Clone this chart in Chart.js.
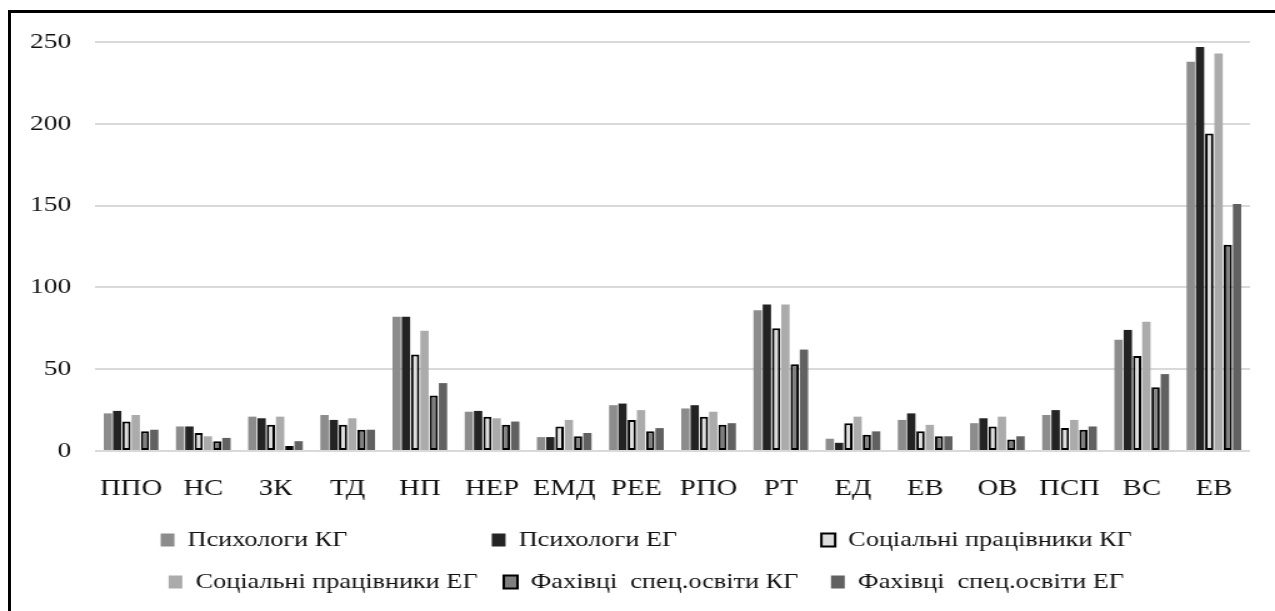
<!DOCTYPE html>
<html><head><meta charset="utf-8">
<script src="https://cdn.jsdelivr.net/npm/chart.js@4"></script>
<style>
html,body{margin:0;padding:0;background:#fff;overflow:hidden;width:1275px;height:611px;}
#wrap{position:absolute;left:0;top:0;width:1020px;height:611px;transform:scaleX(1.25);transform-origin:0 0;}
#frame{position:absolute;left:8px;top:10px;width:1300px;height:700px;border-top:3px solid #000;border-left:3px solid #000;pointer-events:none;}
</style></head><body>
<div id="wrap"><canvas id="c"></canvas></div>
<div id="frame"></div>
<script>
const categories = ['ППО','НС','ЗК','ТД','НП','НЕР','ЕМД','РЕЕ','РПО','РТ','ЕД','ЕВ','ОВ','ПСП','ВС','ЕВ'];
const seriesNames = ['Психологи КГ','Психологи ЕГ','Соціальні працівники КГ','Соціальні працівники ЕГ','Фахівці  спец.освіти КГ','Фахівці  спец.освіти ЕГ'];
const psychKG = [23,15,21,22,82,24,8.5,28,26,86,7.5,19,17,22,68,238];
const psychEG = [24.5,15,20,19,82,24.5,8.5,29,28,89.5,5,23,20,25,74,247];
const socKG   = [18,11,16,16,59,21,15,19,21,75,17,12,15,14,58,194];
const socEG   = [22,9,21,20,73.5,20,19,25,24,89.5,21,16,21,19,79,243];
const specKG  = [12,6,3,13,34,16,9,12,16,53,10,9,7,13,39,126];
const specEG  = [13,8,6,13,41.5,18,11,14,17,62,12,9,9,15,47,151];
const yTicks  = [0,50,100,150,200,250];

const FONT = '"Liberation Serif", "Times New Roman", serif';
const TXT = '#111';
const mctx = document.createElement('canvas').getContext('2d');
mctx.font = '21px ' + FONT;

const series = [psychKG, psychEG, socKG, socEG, specKG, specEG];
const fills   = ['#8c8c8c','#232323','#dedede','#ababab','#7f7f7f','#616161'];
const borders = [0,0,2,0,2,0];

const datasets = series.map((d,i)=>({
  label: seriesNames[i],
  data: d,
  backgroundColor: fills[i],
  borderColor: '#000',
  borderWidth: borders[i],
  borderSkipped: false,
  categoryPercentage: 0.77,
  barPercentage: 0.9
}));

const shiftLegend = {
  id: 'shiftLegend',
  afterLayout(chart) {
    if (chart.legend) { chart.legend.left += 17; chart.legend.right += 17; }
  }
};

new Chart(document.getElementById('c'), {
  type: 'bar',
  data: { labels: categories, datasets },
  plugins: [shiftLegend],
  options: {
    responsive: true,
    maintainAspectRatio: false,
    animation: false,
    devicePixelRatio: 1,
    layout: { padding: { top: 42, left: 0, right: 20, bottom: 8.5 } },
    scales: {
      x: {
        grid: { display: false },
        border: { display: false },
        ticks: { font: { family: FONT, size: 23 }, color: TXT, padding: 16, maxRotation: 0, autoSkip: false },
        afterFit: s => { s.height = 57.5; }
      },
      y: {
        min: 0, max: 250,
        afterBuildTicks: s => { s.ticks = yTicks.map(v => ({ value: v })); },
        grid: { color: '#d9d9d9', lineWidth: 2, drawTicks: false },
        border: { display: false },
        ticks: { font: { family: FONT, size: 22 }, color: TXT, padding: 19 },
        afterFit: s => { s.width = 76; }
      }
    },
    plugins: {
      tooltip: { enabled: false },
      legend: {
        position: 'bottom',
        labels: {
          font: { family: FONT, size: 21 },
          color: TXT,
          boxWidth: 11,
          boxHeight: 13,
          padding: 21,
          generateLabels(chart) {
            const items = Chart.defaults.plugins.legend.labels.generateLabels(chart);
            items.forEach((it, i) => {
              if (i % 3 !== 2) { while (mctx.measureText(it.text).width < 218) it.text += ' '; }
            });
            return items;
          }
        }
      }
    }
  }
});
</script>
</body></html>
